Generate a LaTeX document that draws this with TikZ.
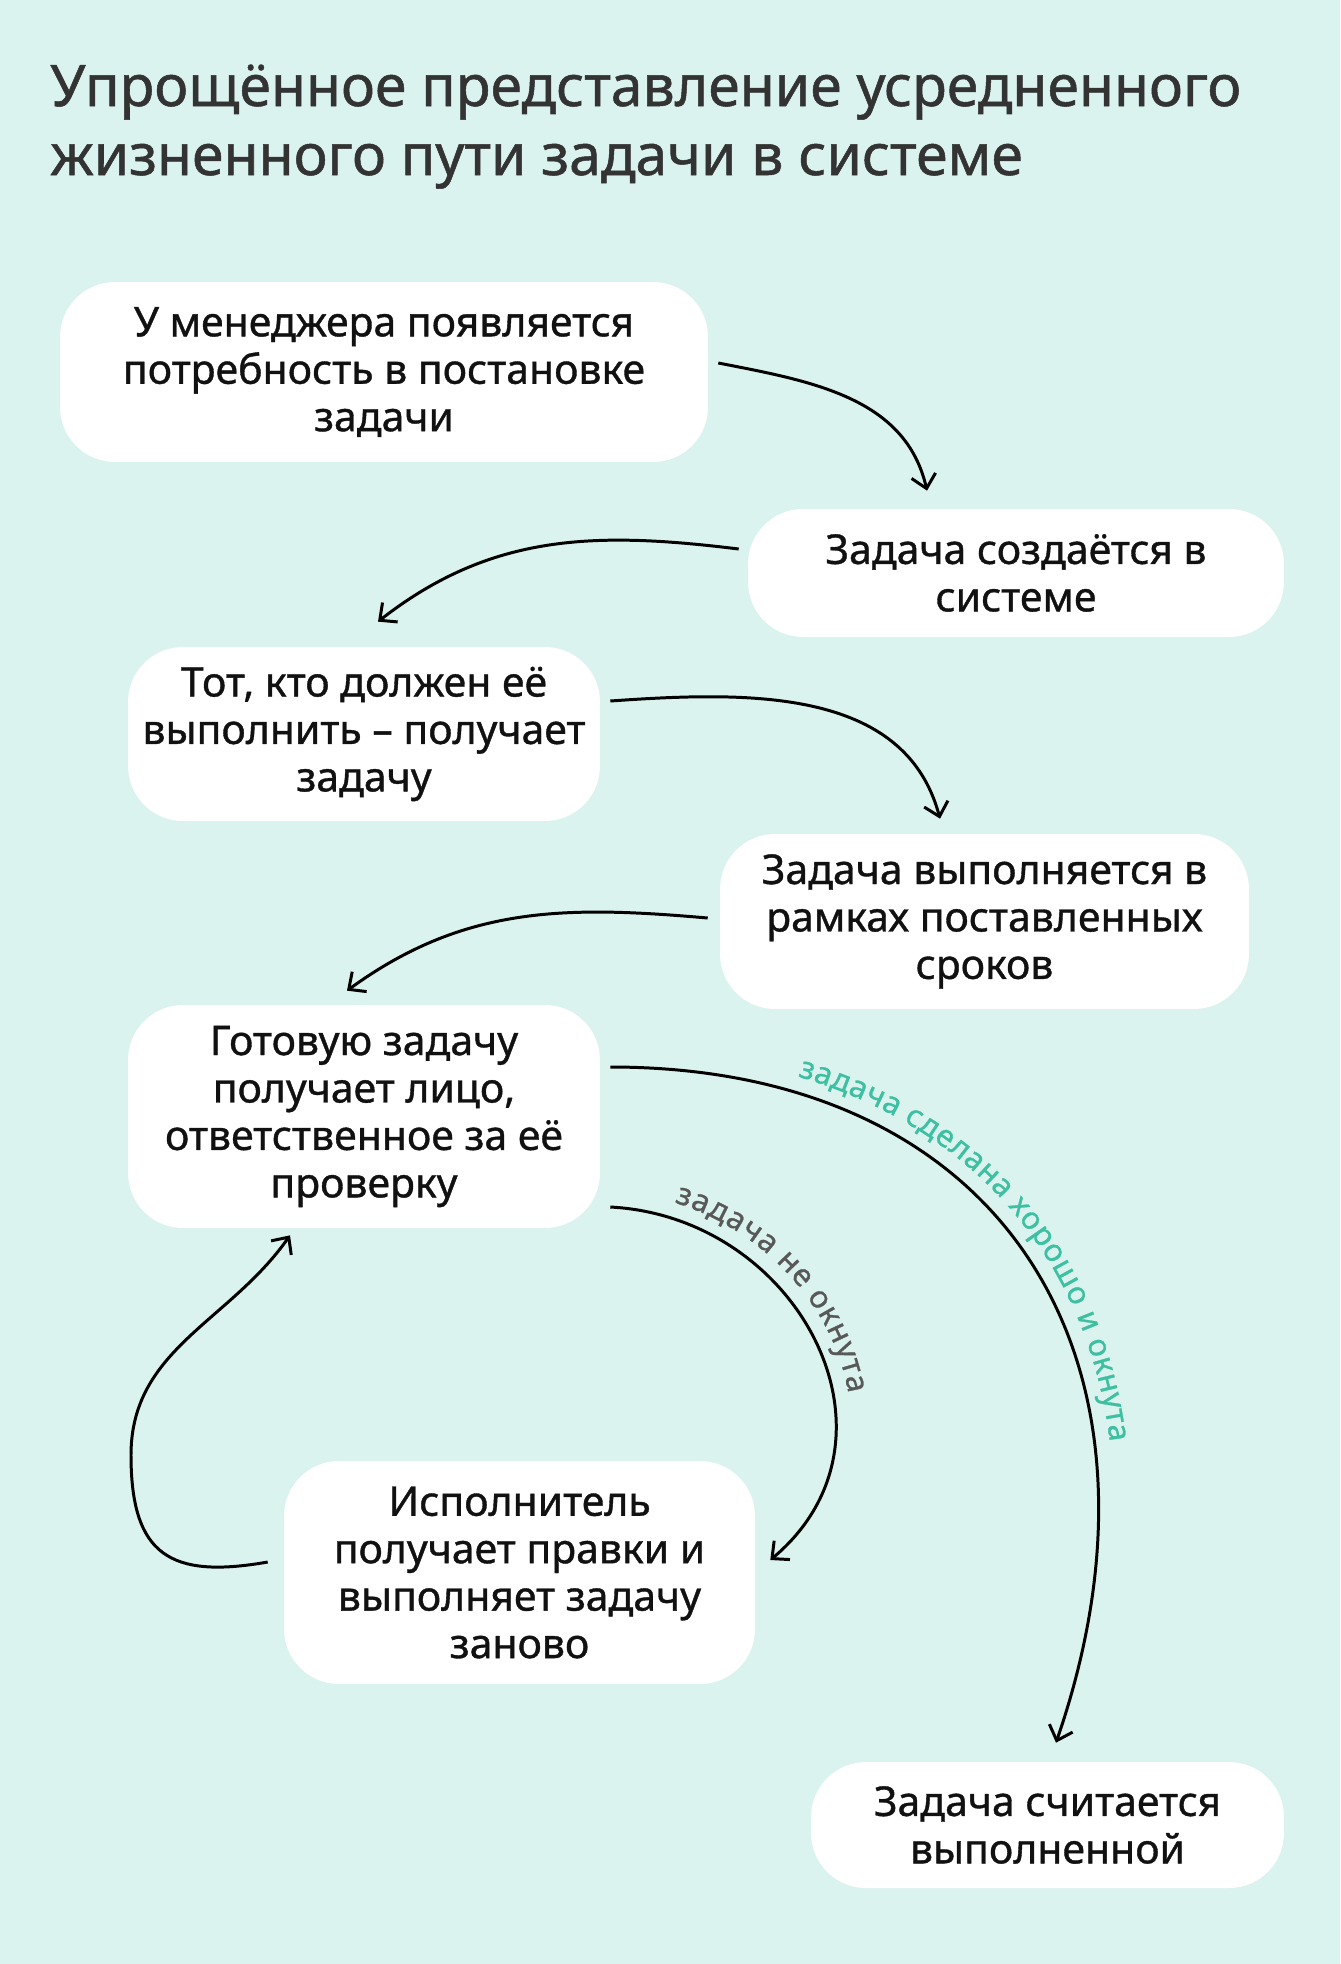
\documentclass[tikz,border=0pt]{standalone}
\usepackage{fontspec}
\setmainfont{Noto Sans}[FakeBold=0.9]
\usetikzlibrary{arrows.meta,decorations.text}
\definecolor{bgmint}{HTML}{DBF3EE}
\definecolor{titlegray}{HTML}{333333}
\definecolor{textblack}{HTML}{111111}
\definecolor{okgreen}{HTML}{3DBFA2}
\definecolor{badgray}{HTML}{585858}
\newcommand{\tagfont}{\fontsize{17.5}{21}\selectfont}
\begin{document}
\begin{tikzpicture}[x=0.02cm, y=0.02cm,
    box/.style={rectangle, fill=white, rounded corners=1.1cm, align=center, inner sep=0pt, text=textblack, font=\fontsize{23.3}{27}\selectfont},
    heading/.style={anchor=base west, inner sep=0pt, text=titlegray, font=\fontsize{32.5}{39}\selectfont},
    arrow/.style={-{Straight Barb[length=7.5pt,width=14pt]}, line width=1.7pt, black}
  ]
    % фон
    \useasboundingbox (0,0) rectangle (1340,-1964);
    \fill[bgmint] (0,0) rectangle (1340,-1964);

    % заголовок
    \node[heading] (title1) at (50,-106) {Упрощённое представление усредненного};
    \node[heading] (title2) at (50,-175) {жизненного пути задачи в системе};

    % шаги
    \node[box, minimum width=12.96cm, minimum height=3.6cm] (need) at (384,-372) {У менеджера появляется \\ потребность в постановке \\ задачи};
    \node[box, minimum width=10.72cm, minimum height=2.56cm] (created) at (1016,-573) {Задача создаётся в \\ системе};
    \node[box, minimum width=9.44cm, minimum height=3.48cm] (assignee) at (364,-734) {Тот, кто должен её \\ выполнить – получает \\ задачу};
    \node[box, minimum width=10.58cm, minimum height=3.5cm] (inwork) at (984.5,-921.5) {Задача выполняется в \\ рамках поставленных \\ сроков};
    \node[box, minimum width=9.44cm, minimum height=4.46cm] (review) at (364,-1116.5) {Готовую задачу \\ получает лицо, \\ ответственное за её \\ проверку};
    \node[box, minimum width=9.42cm, minimum height=4.46cm] (rework) at (519.5,-1572.5) {Исполнитель \\ получает правки и \\ выполняет задачу \\ заново};
    \node[box, minimum width=9.46cm, minimum height=2.52cm] (done) at (1047.5,-1825) {Задача считается \\ выполненной};
    \coordinate (loopleft) at (131,-1455);

    % стрелки
    \draw[arrow] ([shift={(10,9)}]need.east) to[out=-11,in=103] ([shift={(-89,18)}]created.north);
    \draw[arrow] ([shift={(-9,24)}]created.west) to[out=173,in=38] ([shift={(14,25)}]assignee.north);
    \draw[arrow] ([shift={(10,33)}]assignee.east) to[out=4,in=105] ([shift={(-44.5,15)}]inwork.north);
    \draw[arrow] ([shift={(-12,3.5)}]inwork.west) to[out=175,in=36] ([shift={(-17,14)}]review.north);
    \draw[arrow, postaction={decorate, decoration={text along path, raise=9pt, text align={left indent=3.7cm},
        text={|\tagfont\color{okgreen}|задача сделана хорошо и окнута}}}]
      ([shift={(10,49.5)}]review.east) to[out=0,in=71,looseness=1.26] ([shift={(8.5,19)}]done.north);
    \draw[arrow, postaction={decorate, decoration={text along path, raise=9pt, text align={left indent=1.2cm},
        text={|\tagfont\color{badgray}|задача не окнута}}}]
      ([shift={(10,-90.5)}]review.east) to[out=-3,in=40,looseness=1.25] ([shift={(15,12.5)}]rework.east);
    \draw[arrow] ([shift={(-16,10.5)}]rework.west) to[out=190,in=-90,looseness=1.47] (loopleft)
      to[out=90,in=235] ([shift={(-74,-7)}]review.south);
\end{tikzpicture}
\end{document}
